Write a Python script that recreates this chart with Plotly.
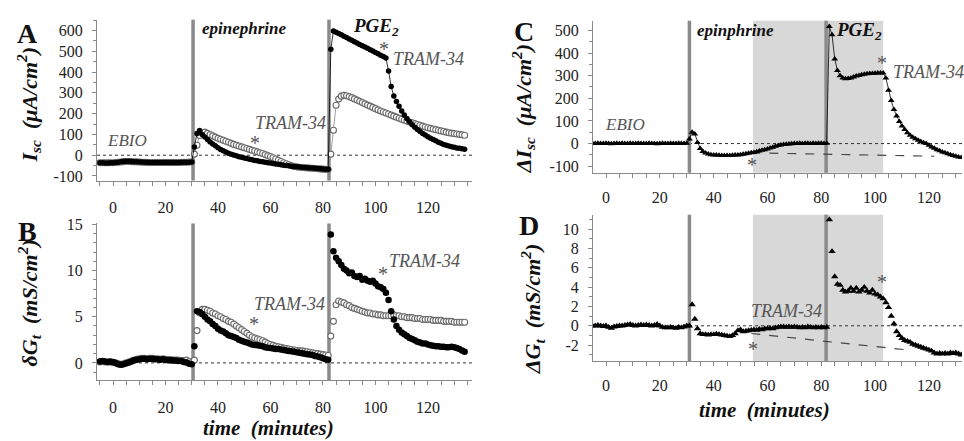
import plotly.graph_objects as go

W, H = 964, 441
FONT = "Times New Roman, Liberation Serif, DejaVu Serif, serif"

# ---------------- data (minutes) ----------------
t_base = list(range(-5, 31))     # EBIO period
t_epi = list(range(31, 83))      # epinephrine period
t_pge_l = list(range(83, 135))   # PGE2 period, panels A/B
t_pge_r = list(range(83, 133))   # PGE2 period, panels C/D

# Panel A : Isc (uA/cm2), filled = control, open = TRAM-34 pretreated
isc_fill_base = [-36, -36, -37, -37, -36, -36, -35, -34, -32, -30,
                 -29, -29, -30, -31, -32, -33, -33, -34, -34, -35,
                 -35, -35, -35, -35, -35, -35, -35, -35, -35, -35,
                 -35, -34, -34, -34, -34, -33]
isc_fill_epi = [40, 105, 119, 100, 88, 75, 64, 54, 45, 36,
                28, 21, 15, 10, 5, 1, -3, -7, -10, -13,
                -16, -19, -22, -25, -27, -30, -32, -34, -36, -38,
                -40, -42, -44, -46, -48, -50, -51, -53, -54, -56,
                -57, -58, -59, -60, -61, -62, -63, -64, -65, -66,
                -67, -68]
isc_fill_pge = [510, 598, 592, 585, 579, 572, 566, 559, 553, 546,
                540, 533, 527, 520, 514, 507, 501, 494, 488, 481,
                475, 468, 405, 330, 285, 258, 235, 213, 194, 177,
                161, 147, 135, 124, 114, 105, 97, 89, 82, 76,
                70, 62, 57, 52, 48, 44, 41, 38, 35, 33,
                31, 29]
isc_open_base = [-36, -36, -36, -36, -36, -36, -35, -34, -33, -31,
                 -30, -30, -31, -32, -32, -33, -34, -34, -35, -35,
                 -35, -35, -35, -35, -35, -35, -35, -35, -35, -35,
                 -35, -35, -34, -34, -33, -33]
isc_open_epi = [5, 48, 95, 108, 111, 105, 99, 93, 87, 81,
                77, 72, 67, 62, 57, 52, 48, 44, 40, 36,
                32, 28, 24, 20, 16, 12, 8, 3, -2, -7,
                -12, -18, -24, -30, -36, -41, -46, -50, -54, -56,
                -58, -59, -60, -61, -62, -63, -64, -65, -66, -67,
                -68, -69]
isc_open_pge = [5, 120, 240, 270, 284, 288, 286, 282, 277, 271,
                265, 259, 253, 247, 241, 236, 230, 224, 218, 213,
                208, 203, 198, 193, 188, 183, 178, 173, 168, 164,
                160, 156, 152, 148, 144, 140, 136, 132, 129, 126,
                123, 120, 117, 114, 111, 108, 106, 104, 102, 100,
                98, 96]

# Panel B : delta Gt (mS/cm2)
gt_fill_base = [0.15, 0.2, 0.15, 0.1, 0.15, 0.1, 0.0, -0.15, -0.2, -0.15,
                -0.05, 0.05, 0.15, 0.3, 0.35, 0.4, 0.45, 0.45, 0.4, 0.45,
                0.45, 0.4, 0.4, 0.35, 0.4, 0.35, 0.3, 0.3, 0.25, 0.25,
                0.2, 0.2, 0.1, 0.05, -0.1, -0.15]
gt_fill_epi = [1.8, 5.6, 5.5, 5.3, 5.0, 4.7, 4.5, 4.2, 4.0, 3.7,
               3.5, 3.4, 3.2, 3.0, 2.9, 2.8, 2.7, 2.5, 2.4, 2.3,
               2.2, 2.1, 2.0, 1.95, 1.9, 1.85, 1.8, 1.7, 1.65, 1.6,
               1.55, 1.5, 1.5, 1.45, 1.4, 1.35, 1.3, 1.25, 1.2, 1.15,
               1.1, 1.05, 1.0, 0.95, 0.9, 0.85, 0.75, 0.7, 0.6, 0.5,
               0.4, 0.35]
gt_fill_pge = [13.9, 12.1, 11.4, 11.0, 10.6, 10.2, 10.0, 9.7, 9.8, 9.4,
               9.3, 9.4, 9.0, 9.1, 8.9, 8.8, 8.9, 8.6, 8.3, 8.2,
               8.0, 7.6, 6.8, 5.6, 4.7, 4.0, 3.6, 3.3, 3.1, 2.9,
               2.7, 2.6, 2.45, 2.3, 2.2, 2.1, 2.1, 2.0, 1.9, 1.85,
               1.8, 1.8, 1.75, 1.75, 1.7, 1.7, 1.75, 1.7, 1.6, 1.5,
               1.35, 1.2]
gt_open_base = [0.1, 0.15, 0.1, 0.1, 0.1, 0.05, 0.0, -0.1, -0.15, -0.1,
                0.0, 0.1, 0.2, 0.3, 0.4, 0.45, 0.5, 0.5, 0.45, 0.5,
                0.5, 0.45, 0.45, 0.4, 0.45, 0.4, 0.35, 0.35, 0.3, 0.3,
                0.3, 0.25, 0.25, 0.3, 0.15, 0.05]
gt_open_epi = [0.3, 3.5, 5.4, 5.8, 5.8, 5.7, 5.6, 5.4, 5.3, 5.1,
               5.0, 4.8, 4.7, 4.5, 4.4, 4.2, 4.0, 3.8, 3.6, 3.4,
               3.2, 3.0, 2.8, 2.7, 2.6, 2.5, 2.4, 2.25, 2.1, 2.0,
               1.9, 1.8, 1.75, 1.7, 1.6, 1.55, 1.5, 1.45, 1.4, 1.35,
               1.3, 1.3, 1.25, 1.2, 1.15, 1.1, 1.05, 1.0, 0.95, 0.9,
               0.85, 0.8]
gt_open_pge = [2.9, 4.5, 6.3, 6.7, 6.6, 6.5, 6.3, 6.2, 6.0, 5.9,
               5.8, 5.7, 5.6, 5.5, 5.4, 5.4, 5.3, 5.3, 5.2, 5.2,
               5.1, 5.1, 5.1, 5.1, 5.2, 5.1, 5.1, 5.0, 5.0, 4.9,
               4.9, 4.9, 4.8, 4.8, 4.8, 4.7, 4.7, 4.7, 4.7, 4.6,
               4.6, 4.6, 4.6, 4.5, 4.5, 4.5, 4.5, 4.4, 4.4, 4.4,
               4.4, 4.4]

# Panel C : difference in Isc
disc_base = [1, 0, 1, 0, 0, 1, 0, -1, 0, 1,
             0, 1, 0, 0, 1, 0, 0, 1, 0, 0,
             0, 1, 0, 0, -1, 0, 1, 0, 0, 1,
             0, 0, 1, 0, 0, 1]
disc_epi = [20, 50, 42, 5, -22, -35, -42, -46, -49, -50,
            -51, -52, -53, -53, -53, -53, -52, -51, -50, -49,
            -47, -45, -43, -41, -39, -36, -33, -30, -27, -24,
            -20, -16, -12, -9, -6, -4, -3, -2, -1, 0,
            0, 1, 0, 1, 1, 0, 1, 0, 1, 1,
            0, 1]
disc_pge = [517, 481, 374, 323, 300, 290, 286, 287, 290, 294,
            298, 301, 304, 306, 308, 309, 310, 311, 312, 312,
            312, 290, 235, 190, 150, 122, 98, 78, 62, 48,
            37, 28, 21, 15, 9, 4, 0, -8, -15, -21,
            -27, -32, -37, -41, -45, -49, -53, -56, -59, -62]

# Panel D : difference in Gt
dgt_base = [0, 0, 0.05, 0, -0.05, 0, -0.15, -0.25, -0.1, -0.05,
            0, 0, 0.05, 0.1, 0.15, 0.05, 0, 0.05, 0.1, 0.05,
            0.1, 0.05, 0, 0.05, 0.15, 0, -0.15, -0.2, -0.2, -0.15,
            -0.2, -0.25, -0.15, -0.2, -0.1, 0.0]
dgt_epi = [0.0, 2.2, 0.7, -0.3, -0.8, -0.9, -0.9, -0.95, -0.9, -0.9,
           -0.85, -0.9, -0.95, -1.0, -1.05, -1.1, -1.0, -0.8, -0.5, -0.4,
           -0.6, -0.55, -0.5, -0.45, -0.4, -0.45, -0.35, -0.4, -0.3, -0.3,
           -0.25, -0.3, -0.2, -0.15, -0.1, -0.1, -0.15, -0.1, -0.15, -0.1,
           -0.15, -0.2, -0.15, -0.2, -0.1, -0.15, -0.2, -0.15, -0.2, -0.15,
           -0.2, -0.15]
dgt_pge = [11.0, 7.7, 5.1, 4.3, 4.2, 3.7, 3.5, 3.6, 3.9, 3.6,
           3.9, 3.5, 3.7, 4.0, 3.6, 3.4, 3.7, 3.3, 3.2, 3.0,
           2.8, 2.4, 1.9, 1.0, 0.2, -0.6, -1.0, -1.3, -1.5, -1.6,
           -1.7, -1.9, -2.0, -2.1, -2.2, -2.3, -2.4, -2.5, -2.6, -2.8,
           -2.9, -2.85, -2.9, -2.85, -2.9, -2.8, -2.85, -2.8, -2.9, -3.0]

# baseline extrapolations (dashed) and event times
dash_c_t, dash_c_v = [54, 122], [-41, -56]
dash_d_t, dash_d_v = [54, 112], [-0.8, -2.5]
events_ab = [30.5, 82.3]
events_cd = [31.0, 81.8]
shade_cd = [54.6, 103.0]

t_left = t_base + t_epi + t_pge_l
t_right = t_base + t_epi + t_pge_r
isc_fill = isc_fill_base + isc_fill_epi + isc_fill_pge
isc_open = isc_open_base + isc_open_epi + isc_open_pge
gt_fill = gt_fill_base + gt_fill_epi + gt_fill_pge
gt_open = gt_open_base + gt_open_epi + gt_open_pge
disc = disc_base + disc_epi + disc_pge
dgt = dgt_base + dgt_epi + dgt_pge
for s in (isc_fill, isc_open, gt_fill, gt_open):
    assert len(s) == len(t_left)
for s in (disc, dgt):
    assert len(s) == len(t_right)

# ---------------- figure ----------------
fig = go.Figure()

fig.add_trace(go.Scatter(x=t_left, y=isc_open, mode="lines+markers", xaxis="x", yaxis="y",
                         line=dict(color="#888", width=0.8),
                         marker=dict(symbol="circle", size=6, color="white",
                                     line=dict(color="#6a6a6a", width=1.1))))
fig.add_trace(go.Scatter(x=t_left, y=isc_fill, mode="lines+markers", xaxis="x", yaxis="y",
                         line=dict(color="black", width=0.8),
                         marker=dict(symbol="circle", size=5.5, color="black")))
fig.add_trace(go.Scatter(x=t_left, y=gt_open, mode="markers", xaxis="x2", yaxis="y2",
                         marker=dict(symbol="circle", size=6, color="white",
                                     line=dict(color="#6a6a6a", width=1.1))))
fig.add_trace(go.Scatter(x=t_left, y=gt_fill, mode="markers", xaxis="x2", yaxis="y2",
                         marker=dict(symbol="circle", size=6.5, color="black")))
fig.add_trace(go.Scatter(x=dash_c_t, y=dash_c_v, mode="lines", xaxis="x3", yaxis="y3",
                         line=dict(color="#444", width=1.2, dash="dash")))
fig.add_trace(go.Scatter(x=t_right, y=disc, mode="lines+markers", xaxis="x3", yaxis="y3",
                         line=dict(color="black", width=0.8),
                         marker=dict(symbol="triangle-up", size=6, color="black")))
fig.add_trace(go.Scatter(x=dash_d_t, y=dash_d_v, mode="lines", xaxis="x4", yaxis="y4",
                         line=dict(color="#444", width=1.2, dash="dash")))
fig.add_trace(go.Scatter(x=t_right, y=dgt, mode="markers", xaxis="x4", yaxis="y4",
                         marker=dict(symbol="triangle-up", size=6.5, color="black")))


def ydom(top, bottom):
    return [1 - bottom / H, 1 - top / H]


TICKFONT = dict(family=FONT, size=16, color="#222")


def xax(dom, rng, anchor, standoff):
    return dict(domain=[dom[0] / W, dom[1] / W], range=rng, anchor=anchor,
                showgrid=False, zeroline=False, showline=True, linecolor="#8a8a8a",
                linewidth=1, ticks="outside", ticklen=4, tickcolor="#8a8a8a",
                tickvals=[0, 20, 40, 60, 80, 100, 120], tickfont=TICKFONT,
                ticklabelstandoff=standoff,
                minor=dict(dtick=5, tick0=0, ticks="outside", ticklen=4, tickcolor="#8a8a8a"))


def yax(dom, rng, anchor, vals, minor_d):
    return dict(domain=dom, range=rng, anchor=anchor, showgrid=False, zeroline=False,
                showline=True, linecolor="#8a8a8a", linewidth=1, ticks="outside",
                ticklen=4, tickcolor="#8a8a8a", tickvals=vals,
                ticktext=[str(v) for v in vals], tickfont=TICKFONT,
                ticklabelstandoff=6,
                minor=dict(dtick=minor_d, ticks="outside", ticklen=3, tickcolor="#8a8a8a"))


fig.update_layout(
    width=W, height=H, margin=dict(l=0, r=0, t=0, b=0),
    paper_bgcolor="white", plot_bgcolor="white", showlegend=False,
    font=dict(family=FONT, color="#222"),
    xaxis=xax((97, 472), [-6.1, 136.8], "y", 8),
    yaxis=yax(ydom(13, 178), [-122, 652], "x", [-100, 0, 100, 200, 300, 400, 500, 600], 50),
    xaxis2=xax((97, 472), [-6.1, 136.8], "y2", 8),
    yaxis2=yax(ydom(222, 383), [-1.9, 15.1], "x2", [0, 5, 10, 15], 1),
    xaxis3=xax((593, 962), [-4.83, 132.3], "y3", 6),
    yaxis3=yax(ydom(14, 170), [-129, 543], "x3", [-100, 0, 100, 200, 300, 400, 500], 50),
    xaxis4=xax((593, 962), [-4.83, 132.3], "y4", 6),
    yaxis4=yax(ydom(213, 363), [-3.64, 11.5], "x4", [-2, 0, 2, 4, 6, 8, 10], 1),
)

shapes = []
for xa, ya in (("x3", "y3"), ("x4", "y4")):
    shapes.append(dict(type="rect", xref=xa, yref=ya + " domain", x0=shade_cd[0], x1=shade_cd[1],
                       y0=0, y1=1, fillcolor="#d8d8d8", line=dict(width=0), layer="below"))
for xa, ya, evs in (("x", "y", events_ab), ("x2", "y2", events_ab),
                    ("x3", "y3", events_cd), ("x4", "y4", events_cd)):
    shapes.append(dict(type="line", xref=xa + " domain", yref=ya, x0=0, x1=1, y0=0, y1=0,
                       line=dict(color="#333", width=1, dash="dot"), layer="below"))
    for ev in evs:
        shapes.append(dict(type="line", xref=xa, yref=ya + " domain", x0=ev, x1=ev, y0=0, y1=1,
                           line=dict(color="#8a8a8a", width=3.5), layer="below"))
fig.update_layout(shapes=shapes)


def ann(x, y, text, size, color="#222", angle=0):
    fig.add_annotation(x=x / W, y=1 - y / H, xref="paper", yref="paper", text=text,
                       showarrow=False, textangle=angle, xanchor="center", yanchor="middle",
                       font=dict(family=FONT, size=size, color=color))


GRAY = "#555"
# panel letters
ann(27, 27, "<b>A</b>", 28, "#111")
ann(27, 230, "<b>B</b>", 28, "#111")
ann(524, 25, "<b>C</b>", 28, "#111")
ann(529, 224, "<b>D</b>", 28, "#111")
# y titles
ann(29, 100, "<b><i>I<sub>sc</sub>\u00a0\u00a0(\u03bcA/cm<sup>2</sup>)</i></b>", 22, "#111", -90)
ann(29, 304, "<b><i>\u03b4G<sub>t</sub>\u00a0\u00a0(mS/cm<sup>2</sup>)</i></b>", 22, "#111", -90)
ann(523, 105, "<b><i>\u0394I<sub>sc</sub>\u00a0\u00a0(\u03bcA/cm<sup>2</sup>)</i></b>", 22, "#111", -90)
ann(532, 310, "<b><i>\u0394G<sub>t</sub>\u00a0\u00a0(mS/cm<sup>2</sup>)</i></b>", 22, "#111", -90)
# x titles
ann(268, 432, "<b><i>time\u00a0\u00a0(minutes)</i></b>", 21, "#111")
ann(764, 413, "<b><i>time\u00a0\u00a0(minutes)</i></b>", 21, "#111")
# event labels
ann(244, 22, "<b><i>epinephrine</i></b>", 17, "#111")
ann(376, 21, "<b><i>PGE<sub>2</sub></i></b>", 19, "#111")
ann(735, 24, "<b><i>epinphrine</i></b>", 17, "#111")
ann(859, 25, "<b><i>PGE<sub>2</sub></i></b>", 19, "#111")
ann(127, 137, "<i>EBIO</i>", 17, GRAY)
ann(625, 121, "<i>EBIO</i>", 17, GRAY)
# TRAM-34 labels
for (x, y) in ((290, 119), (428, 53), (289, 305), (424, 261), (928, 67), (786, 312)):
    ann(x, y, "<i>TRAM-34</i>", 18, GRAY)
# asterisks
for (x, y) in ((255, 139), (384, 43), (254, 325), (383, 274), (752, 162), (882, 57),
               (753, 351), (882, 282)):
    ann(x, y, "*", 20, GRAY)

fig.write_html("out.html")
